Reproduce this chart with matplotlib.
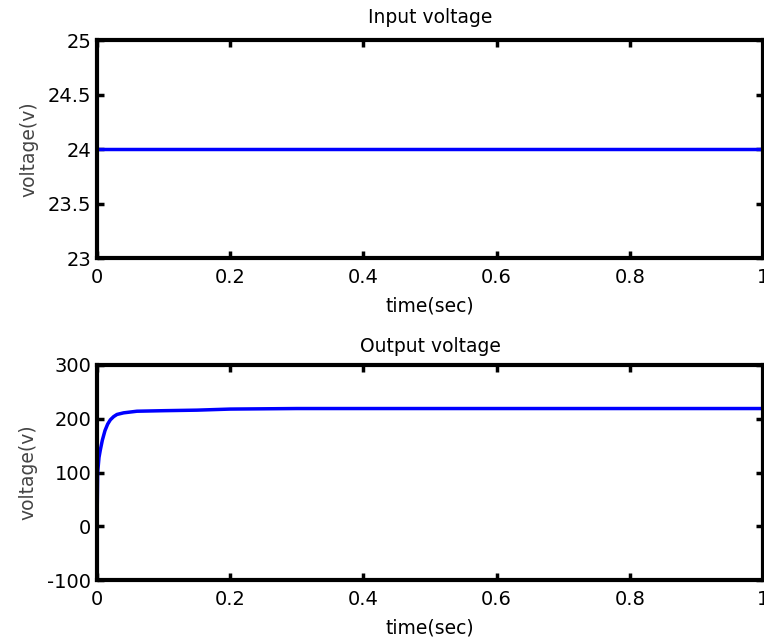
import numpy as np
import matplotlib
matplotlib.use('Agg')
import matplotlib.pyplot as plt

plt.rcParams['font.family'] = ['DejaVu Sans']
plt.rcParams['axes.unicode_minus'] = False

# input voltage (constant)
t_in = [0.0, 1.0]
v_in = [24.0, 24.0]

# output voltage
t_out = [0, 0.001, 0.003, 0.005, 0.008, 0.012, 0.016, 0.02, 0.025, 0.03,
         0.04, 0.06, 0.1, 0.15, 0.2, 0.3, 1.0]
v_out = [0, 100, 128, 142, 160, 178, 190, 198, 204, 208,
         211, 214, 215, 216, 218, 219, 219]

xticks = [0, 0.2, 0.4, 0.6, 0.8, 1]
xticklabels = ['0', '0.2', '0.4', '0.6', '0.8', '1']

W, H = 764, 642
fig = plt.figure(figsize=(W / 100, H / 100), dpi=100)

ax1 = fig.add_axes([97 / W, 1 - 258 / H, 666 / W, 218 / H])
ax2 = fig.add_axes([97 / W, 1 - 580 / H, 666 / W, 215 / H])


def style(ax):
    for sp in ax.spines.values():
        sp.set_linewidth(3)
    ax.tick_params(direction='in', length=5, width=2.5, top=True, right=True,
                   labelsize=14)
    ax.tick_params(axis='x', pad=7)
    ax.tick_params(axis='y', pad=4)
    ax.set_xlim(0, 1)
    ax.set_xticks(xticks)
    ax.set_xticklabels(xticklabels)
    ax.set_xlabel('time(sec)', fontsize=13.5, labelpad=7)
    ax.set_ylabel('voltage(v)', fontsize=13.5, color='#444444', labelpad=7)


ax1.plot(t_in, v_in, color='#0000ff', lw=2.5)
ax1.set_ylim(23, 25)
ax1.set_yticks([23, 23.5, 24, 24.5, 25])
ax1.set_yticklabels(['23', '23.5', '24', '24.5', '25'])
ax1.set_title('Input voltage', fontsize=13.5, pad=12)
style(ax1)

ax2.plot(t_out, v_out, color='#0000ff', lw=2.5)
ax2.set_ylim(-100, 300)
ax2.set_yticks([-100, 0, 100, 200, 300])
ax2.set_title('Output voltage', fontsize=13.5, pad=9)
style(ax2)

fig.savefig('out.png', dpi=100)
